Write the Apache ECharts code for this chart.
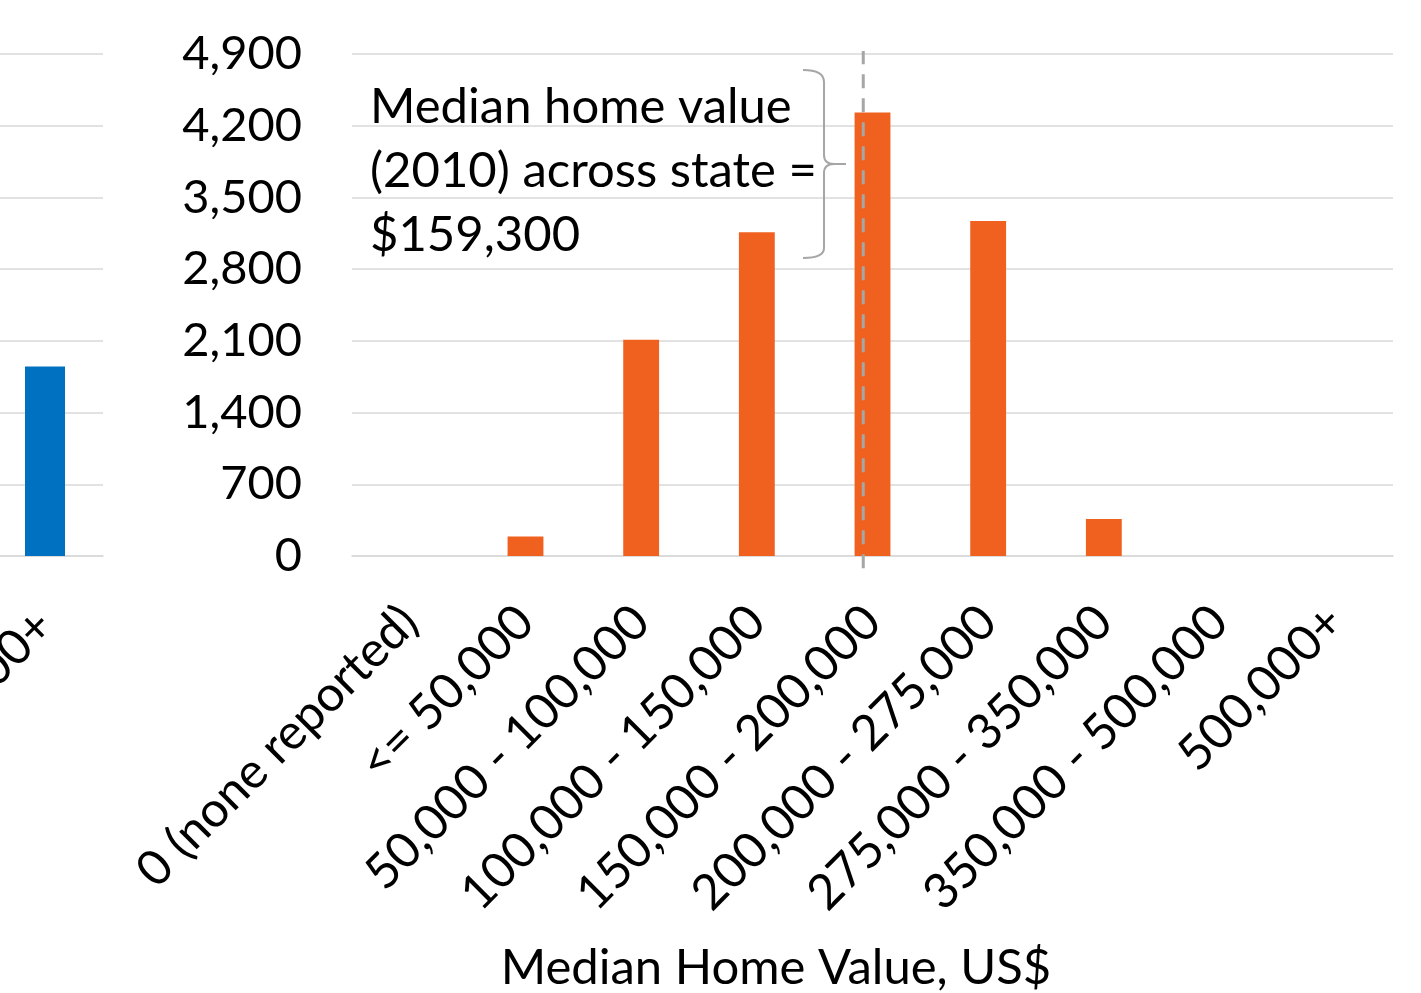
<!DOCTYPE html>
<html><head><meta charset="utf-8">
<script src="https://cdn.jsdelivr.net/npm/echarts@6/dist/echarts.min.js"></script>
<style>html,body{margin:0;padding:0;background:#fff;overflow:hidden}#c{width:1421px;height:993px}</style>
</head><body><div id="c"></div>
<script>
// Data
const categories = ['0 (none reported)', '<= 50,000', '50,000 - 100,000', '100,000 - 150,000', '150,000 - 200,000', '200,000 - 275,000', '275,000 - 350,000', '350,000 - 500,000', '500,000+'];
const tractCounts = [0, 190, 2110, 3160, 4330, 3270, 360, 0, 0];
const leftCategories = ['500,000+'];
const leftCounts = [1850];
const yTicks = {min: 0, max: 4900, interval: 700};
const medianPosition = 3.92; // position of the state median marker along the category axis
const medianLineSpan = [-120, 4930];
const annotationText = 'Median home value\n(2010) across state =\n$159,300';
const xAxisTitle = 'Median Home Value, US$';

const FONT = 'Lato';
const chart = echarts.init(document.getElementById('c'));
const grid = '#d9d9d9';
const braceStyle = {stroke: '#a6a6a6', lineWidth: 2, fill: null};
function seg(x1, y1, x2, y2) { return {type: 'line', z: 10, shape: {x1, y1, x2, y2}, style: braceStyle}; }
function curve(x1, y1, cpx1, cpy1, x2, y2) { return {type: 'bezierCurve', z: 10, shape: {x1, y1, cpx1, cpy1, x2, y2}, style: braceStyle}; }
chart.setOption({
  animation: false,
  textStyle: {fontFamily: FONT},
  title: {text: xAxisTitle, left: 771, top: 939, textAlign: 'center',
    textStyle: {fontSize: 49, fontWeight: 'normal', color: '#000', fontFamily: FONT}},
  grid: [
    {left: 352, right: 28, top: 54, bottom: 437, containLabel: false, outerBoundsMode: 'none'},
    {left: -13, right: 1318, top: 54, bottom: 437, containLabel: false, outerBoundsMode: 'none'}
  ],
  xAxis: [
    {type: 'category', gridIndex: 0, data: categories,
     axisLine: {lineStyle: {color: grid, width: 1.5}}, axisTick: {show: false},
     axisLabel: {rotate: 45, interval: 0, fontSize: 49, color: '#000', margin: 58, fontFamily: FONT}},
    {type: 'value', gridIndex: 0, min: -0.5, max: 8.5, show: false},
    {type: 'category', gridIndex: 1, data: leftCategories,
     axisLine: {lineStyle: {color: grid, width: 1.5}}, axisTick: {show: false},
     axisLabel: {rotate: 45, interval: 0, fontSize: 49, color: '#000', margin: 62, fontFamily: FONT}}
  ],
  yAxis: [
    {type: 'value', gridIndex: 0, min: yTicks.min, max: yTicks.max, interval: yTicks.interval,
     axisLine: {show: false}, axisTick: {show: false},
     splitLine: {lineStyle: {color: grid, width: 1.5}},
     axisLabel: {fontSize: 47, color: '#000', margin: 50, fontFamily: FONT,
       formatter: v => v.toLocaleString('en-US')}},
    {type: 'value', gridIndex: 1, min: yTicks.min, max: yTicks.max, interval: yTicks.interval,
     axisLine: {show: false}, axisTick: {show: false}, axisLabel: {show: false},
     splitLine: {lineStyle: {color: grid, width: 1.5}}}
  ],
  series: [
    {type: 'bar', xAxisIndex: 0, yAxisIndex: 0, data: tractCounts, barWidth: '31%',
     itemStyle: {color: '#F0601F'}},
    {type: 'bar', xAxisIndex: 2, yAxisIndex: 1, data: leftCounts, barWidth: 40,
     itemStyle: {color: '#0070C0'}},
    {type: 'line', xAxisIndex: 1, yAxisIndex: 0, clip: false, symbol: 'none', z: 5,
     data: medianLineSpan.map(v => [medianPosition, v]),
     lineStyle: {color: '#a6a6a6', width: 3, type: [14, 10]}}
  ],
  graphic: [
    {type: 'text', left: 370, top: 75, z: 10,
     style: {text: annotationText, font: '49px Lato', fill: '#000', lineHeight: 64}},
    curve(803, 70, 824, 70, 824, 82),
    seg(824, 82, 824, 155),
    curve(824, 155, 824, 164, 834, 164),
    seg(834, 164, 846, 164),
    curve(834, 164, 824, 164, 824, 173),
    seg(824, 173, 824, 248),
    curve(824, 248, 824, 258, 803, 258)
  ]
});
</script></body></html>
